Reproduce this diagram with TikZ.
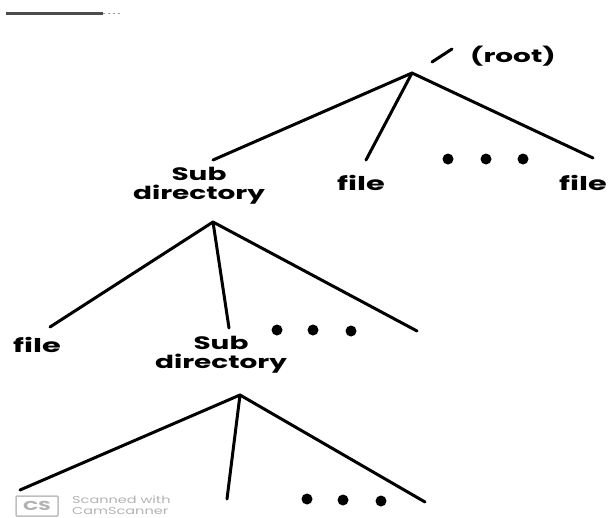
\documentclass[tikz,border=0pt]{standalone}
\usepackage{fontspec}
\setmainfont{Poppins}
\newcommand\stretchtxt[1]{\scalebox{1.55}[1]{#1}}
\newcommand\stretchfile[1]{\scalebox{1.6}[1]{#1}}
\begin{document}
\begin{tikzpicture}[x=1pt,y=-1pt,
  branch/.style={line width=3pt,line cap=round},
  lbl/.style={font=\fontsize{18}{19}\selectfont\bfseries,inner sep=0pt,align=center},
  flbl/.style={font=\fontsize{19}{19}\selectfont\bfseries,inner sep=0pt},
  dotm/.style={fill=black,circle,minimum size=11pt,inner sep=0pt},
  wm/.style={text=black!30,font=\fontsize{10}{11}\selectfont,inner sep=0pt,align=left}]
\useasboundingbox (0,0) rectangle (609,517);
% scan mark at top left
\coordinate (m1) at (6,13); \coordinate (m2) at (103,13); \coordinate (m3) at (120,13);
\draw[line width=3pt,black!70] (m1) -- (m2);
\draw[line width=1pt,black!40,dash pattern=on 2pt off 3pt] (m2) -- (m3);
% root
\coordinate (s1) at (432,62); \coordinate (s2) at (452,49);
\draw[branch] (s1) -- (s2);
\node[lbl,anchor=west] (root) at (470,56) {\stretchtxt{(root)}};
\coordinate (a1) at (412,73);
\coordinate (c11) at (213,160);
\coordinate (c12) at (366,160);
\coordinate (c13) at (593,158);
\draw[branch] (a1) -- (c11);
\draw[branch] (a1) -- (c12);
\draw[branch] (a1) -- (c13);
\node[dotm] (d11) at (448,159) {};
\node[dotm] (d12) at (486,159) {};
\node[dotm] (d13) at (523,159) {};
\node[lbl] (sub1) at (199,186) {\stretchtxt{Sub}\\\stretchtxt{directory}};
\node[flbl] (file1) at (361,183) {\stretchfile{file}};
\node[flbl,anchor=east] (file2) at (607,183) {\stretchfile{file}};
% level 2
\coordinate (a2) at (213,222);
\coordinate (c21) at (50,327);
\coordinate (c22) at (229,328);
\coordinate (c23) at (417,331);
\draw[branch] (a2) -- (c21);
\draw[branch] (a2) -- (c22);
\draw[branch] (a2) -- (c23);
\node[dotm] (d21) at (277,330) {};
\node[dotm] (d22) at (313,330) {};
\node[dotm] (d23) at (351,331) {};
\node[flbl] (file3) at (37,345) {\stretchfile{file}};
\node[lbl] (sub2) at (221,355) {\stretchtxt{Sub}\\\stretchtxt{directory}};
% level 3
\coordinate (a3) at (240,395);
\coordinate (c31) at (20,490);
\coordinate (c32) at (227,499);
\coordinate (c33) at (425,502);
\draw[branch] (a3) -- (c31);
\draw[branch] (a3) -- (c32);
\draw[branch] (a3) -- (c33);
\node[dotm] (d31) at (307,499) {};
\node[dotm] (d32) at (343,500) {};
\node[dotm] (d33) at (381,501) {};
% watermark
\node[draw=black!25,line width=1.5pt,rounded corners=1pt,text=black!30,font=\fontsize{13}{13}\selectfont\bfseries,minimum width=42pt,minimum height=20pt,inner sep=0pt] (cs) at (37,506) {\stretchtxt{CS}};
\node[wm,anchor=west] (wmt) at (72,505) {\scalebox{1.45}[1]{Scanned with}\\\scalebox{1.45}[1]{CamScanner}};
\end{tikzpicture}
\end{document}
